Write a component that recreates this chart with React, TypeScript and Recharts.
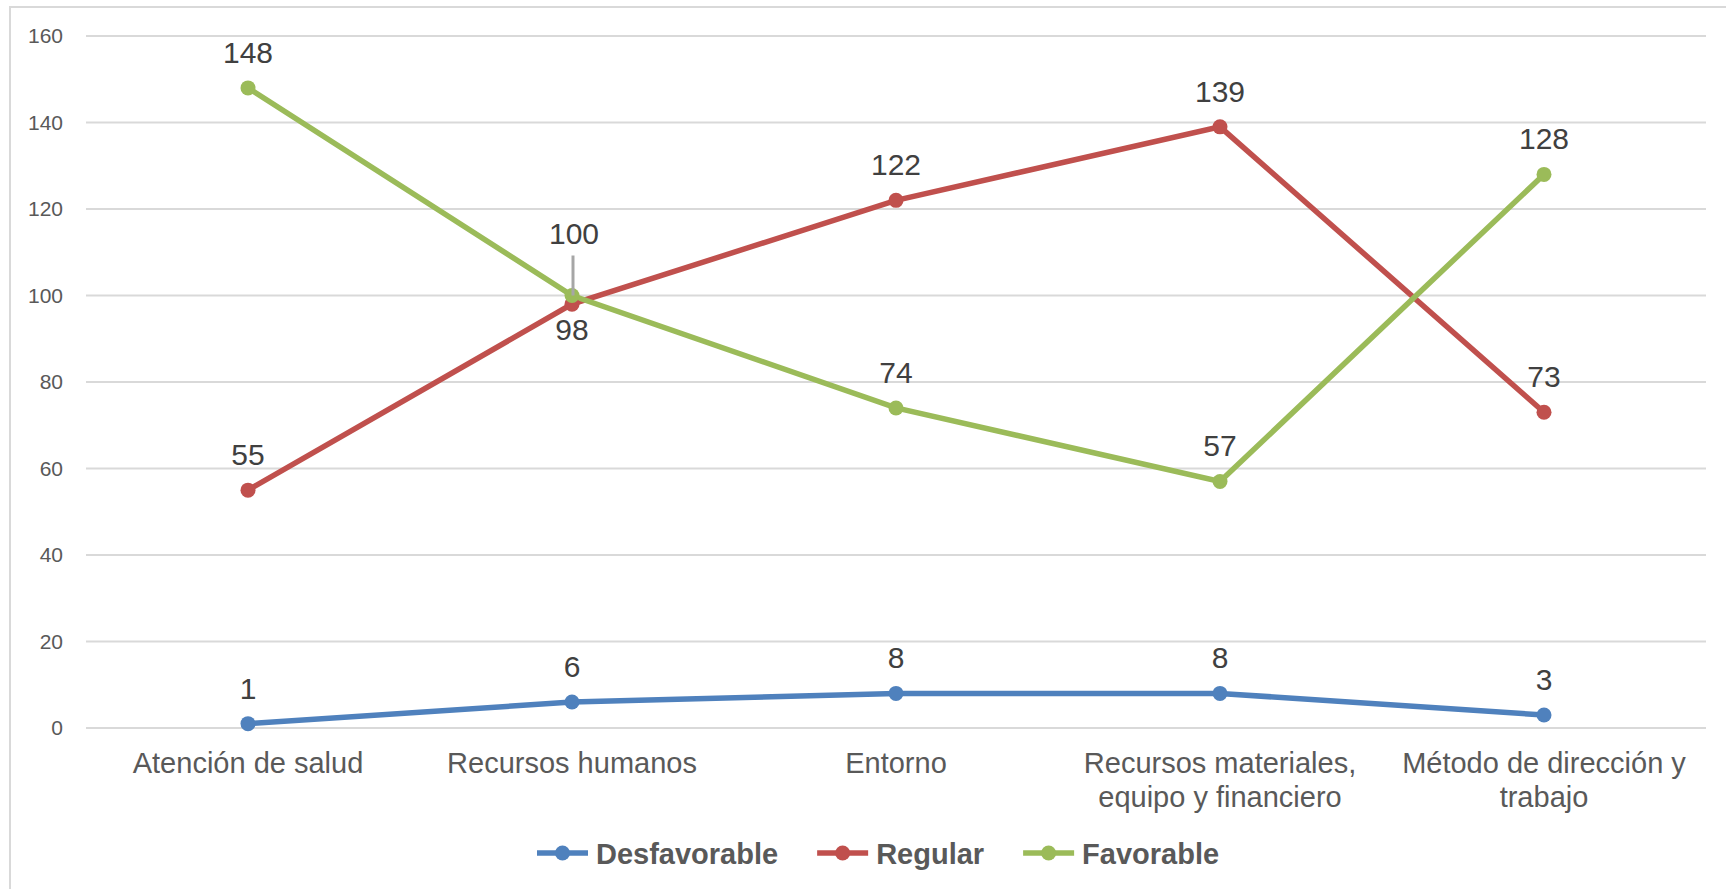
import React from 'react';
import {
  LineChart,
  Line,
  XAxis,
  YAxis,
  CartesianGrid,
  Legend,
  LabelList,
} from 'recharts';

// Categories and counts per rating
const categories = [
  'Atención de salud',
  'Recursos humanos',
  'Entorno',
  'Recursos materiales, equipo y financiero',
  'Método de dirección y trabajo',
];
const desfavorable = [1, 6, 8, 8, 3];
const regular = [55, 98, 122, 139, 73];
const favorable = [148, 100, 74, 57, 128];
const yTicks = [0, 20, 40, 60, 80, 100, 120, 140, 160];

const data = categories.map((category, i) => ({
  category,
  Desfavorable: desfavorable[i],
  Regular: regular[i],
  Favorable: favorable[i],
}));

const FONT = '"Liberation Sans", Arial, Helvetica, sans-serif';
const WIDTH = 1726;
const HEIGHT = 889;
const LINE_W = 5.5;
const DOT_R = 7.5;

const series = [
  { key: 'Desfavorable', color: '#4F81BD' },
  { key: 'Regular', color: '#C0504D' },
  { key: 'Favorable', color: '#9BBB59' },
];

// Labels that are moved away from overlapping points
const labelPlacement: Record<string, Record<number, 'below' | 'leader'>> = {
  Regular: { 1: 'below' },
  Favorable: { 1: 'leader' },
};

const labelStyle = { fontSize: 30, fontFamily: FONT, fill: '#404040' };

const renderValueLabel = (seriesKey: string) => (props: any) => {
  const { x, y, value, index } = props;
  const mode = labelPlacement[seriesKey]?.[index] ?? 'above';
  if (mode === 'below') {
    return (
      <text x={x} y={y + 36} textAnchor="middle" style={labelStyle}>
        {value}
      </text>
    );
  }
  if (mode === 'leader') {
    return (
      <g>
        <line x1={x + 1} x2={x + 1} y1={y - 40} y2={y} stroke="#A6A6A6" strokeWidth={3} />
        <text x={x + 2} y={y - 52} textAnchor="middle" style={labelStyle}>
          {value}
        </text>
      </g>
    );
  }
  return (
    <text x={x} y={y - 25} textAnchor="middle" style={labelStyle}>
      {value}
    </text>
  );
};

let measureCtx: CanvasRenderingContext2D | null = null;
const measureText = (t: string, font: string) => {
  if (!measureCtx) measureCtx = document.createElement('canvas').getContext('2d');
  if (!measureCtx) return t.length * 15;
  measureCtx.font = font;
  return measureCtx.measureText(t).width;
};

// Greedy word wrap for the category names
const wrapWords = (text: string, maxWidth: number, font: string) => {
  const words = text.split(' ');
  const lines: string[] = [];
  let current = '';
  words.forEach((w) => {
    const candidate = current ? `${current} ${w}` : w;
    if (current && measureText(candidate, font) > maxWidth) {
      lines.push(current);
      current = w;
    } else {
      current = candidate;
    }
  });
  if (current) lines.push(current);
  return lines;
};

const CategoryTick = (props: any) => {
  const { x, y, payload } = props;
  const lines = wrapWords(String(payload.value), 315, `29px ${FONT}`);
  return (
    <text
      x={x}
      y={y}
      textAnchor="middle"
      style={{ fontSize: 29, fontFamily: FONT, fill: '#595959' }}
    >
      {lines.map((line, i) => (
        <tspan key={i} x={x} dy={i === 0 ? 35 : 34}>
          {line}
        </tspan>
      ))}
    </text>
  );
};

const LegendContent = () => {
  const font = `bold 29px ${FONT}`;
  const iconW = 51;
  const gapIcon = 8;
  const gapItem = 39;
  const widths = series.map((s) => measureText(s.key, font));
  let cx = 537;
  const items = series.map((s, i) => {
    const start = cx;
    cx += iconW + gapIcon + widths[i] + gapItem;
    return (
      <g key={s.key}>
        <line x1={start} x2={start + iconW} y1={23} y2={23} stroke={s.color} strokeWidth={LINE_W} />
        <circle cx={start + iconW / 2} cy={23} r={DOT_R} fill={s.color} />
        <text
          x={start + iconW + gapIcon}
          y={34}
          style={{ fontSize: 29, fontWeight: 'bold', fontFamily: FONT, fill: '#595959' }}
        >
          {s.key}
        </text>
      </g>
    );
  });
  return (
    <svg width={WIDTH} height={45} style={{ display: 'block' }}>
      {items}
    </svg>
  );
};

export default function App() {
  return (
    <div
      style={{
        position: 'absolute',
        left: 0,
        top: 0,
        width: WIDTH,
        height: HEIGHT,
        background: '#FFFFFF',
        overflow: 'hidden',
      }}
    >
      <div
        style={{
          position: 'absolute',
          left: 9,
          top: 6,
          width: WIDTH,
          height: HEIGHT,
          borderLeft: '2px solid #D9D9D9',
          borderTop: '2px solid #D9D9D9',
          pointerEvents: 'none',
        }}
      />
      <LineChart
        width={WIDTH}
        height={HEIGHT}
        data={data}
        margin={{ top: 36, right: 20, left: 0, bottom: 61 }}
      >
        <CartesianGrid vertical={false} stroke="#D9D9D9" strokeWidth={1.8} />
        <XAxis
          dataKey="category"
          interval={0}
          height={100}
          padding={{ left: 162, right: 162 }}
          tickLine={false}
          tickSize={0}
          tickMargin={10}
          axisLine={{ stroke: '#D9D9D9', strokeWidth: 1.8 }}
          tick={<CategoryTick />}
        />
        <YAxis
          width={86}
          domain={[0, 160]}
          ticks={yTicks}
          interval={0}
          axisLine={false}
          tickLine={false}
          tickSize={0}
          tickMargin={23}
          tick={{ fontSize: 21, fontFamily: FONT, fill: '#595959' }}
        />
        <Legend
          layout="horizontal"
          verticalAlign="middle"
          align="center"
          wrapperStyle={{ top: 830, left: 0, width: WIDTH, height: 45 }}
          content={<LegendContent />}
        />
        {series.map((s) => (
          <Line
            key={s.key}
            type="linear"
            dataKey={s.key}
            stroke={s.color}
            strokeWidth={LINE_W}
            dot={{ r: DOT_R, fill: s.color, stroke: s.color, strokeWidth: 0 }}
            activeDot={false}
            isAnimationActive={false}
          >
            <LabelList dataKey={s.key} content={renderValueLabel(s.key)} />
          </Line>
        ))}
      </LineChart>
    </div>
  );
}
